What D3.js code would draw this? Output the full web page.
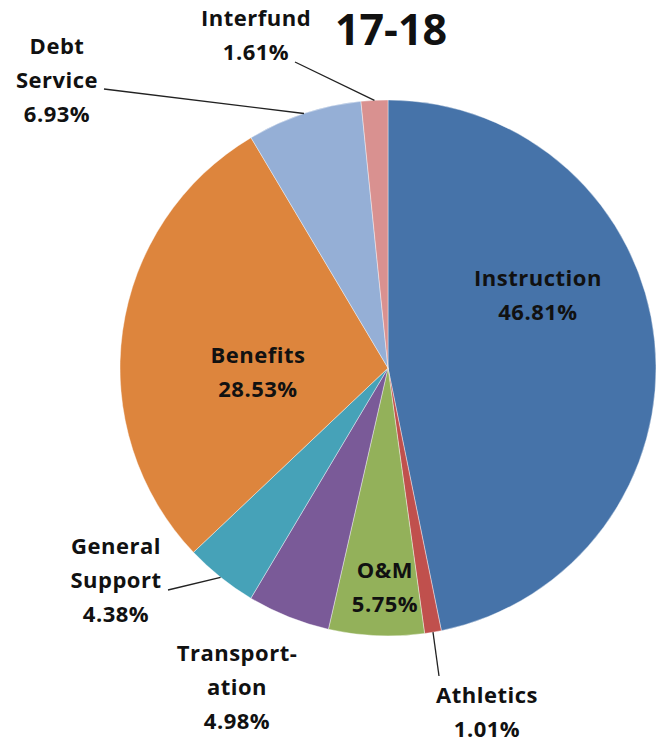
<!DOCTYPE html>
<html>
<head>
<meta charset="utf-8">
<script src="https://cdn.jsdelivr.net/npm/d3@7"></script>
<style>
  html, body { margin: 0; padding: 0; background: #fff; }
  svg text { font-family: "Open Sans", Lato, sans-serif; font-weight: 700; fill: #111; }
</style>
</head>
<body>
<div id="chart"></div>
<script>
// pie 17-18, mulai jam 12 searah jarum jam
const categories = ["Instruction", "Athletics", "O&M", "Transportation", "General Support", "Benefits", "Debt Service", "Interfund"];
const values     = [46.81, 1.01, 5.75, 4.98, 4.38, 28.53, 6.93, 1.61];
const labelLines = [["Instruction"], ["Athletics"], ["O&M"], ["Transport-", "ation"], ["General", "Support"], ["Benefits"], ["Debt", "Service"], ["Interfund"]];
const COLORS = ["#4673a9", "#c0504d", "#93b15a", "#7a5a98", "#46a2b8", "#dd853d", "#95afd6", "#d99190"];

// posisi label (layout saja)
const LABELS = {
  "Instruction":     { x: 538, y: 280, line: null },
  "Athletics":       { x: 487, y: 697, line: [439, 676] },
  "O&M":             { x: 385, y: 572, line: null },
  "Transportation":  { x: 237, y: 655, line: null },
  "General Support": { x: 116, y: 548, line: [168, 590] },
  "Benefits":        { x: 258, y: 357, line: null },
  "Debt Service":    { x: 57,  y: 48,  line: [104, 89] },
  "Interfund":       { x: 256, y: 20,  line: [295, 62] }
};

const W = 658, H = 742;
const cx = 388, cy = 368, R = 268;
const LINE_H = 34;

const svg = d3.select("#chart").append("svg")
  .attr("width", W).attr("height", H);

const pie = d3.pie().sort(null).value(d => d.value);
const arc = d3.arc().innerRadius(0).outerRadius(R);
const arcs = pie(categories.map((c, i) => ({ cat: c, value: values[i], lines: labelLines[i] })));

const g = svg.append("g").attr("transform", `translate(${cx},${cy})`);

g.selectAll("path.slice")
  .data(arcs)
  .enter()
  .append("path")
  .attr("class", "slice")
  .attr("d", arc)
  .attr("fill", (d, i) => COLORS[i])
  .attr("stroke", "#fff")
  .attr("stroke-width", 0.4);

// garis penunjuk
arcs.forEach(d => {
  const L = LABELS[d.data.cat];
  if (!L.line) return;
  const mid = (d.startAngle + d.endAngle) / 2;
  const px = cx + R * Math.sin(mid);
  const py = cy - R * Math.cos(mid);
  svg.append("line")
    .attr("x1", L.line[0]).attr("y1", L.line[1])
    .attr("x2", px).attr("y2", py)
    .attr("stroke", "#222").attr("stroke-width", 1.3);
});

// label
arcs.forEach(d => {
  const L = LABELS[d.data.cat];
  const lines = d.data.lines.concat([d.data.value.toFixed(2) + "%"]);
  const t = svg.append("text")
    .attr("text-anchor", "middle")
    .attr("font-size", "22px")
    .attr("letter-spacing", "0.5px");
  lines.forEach((s, k) => {
    t.append("tspan")
      .attr("x", L.x)
      .attr("y", L.y + k * LINE_H)
      .attr("dominant-baseline", "middle")
      .text(s);
  });
});

// judul
svg.append("text")
  .attr("x", 391).attr("y", 45)
  .attr("text-anchor", "middle")
  .attr("font-size", "43px")
  .attr("font-family", "Lato, sans-serif")
  .text("17-18");
</script>
</body>
</html>
